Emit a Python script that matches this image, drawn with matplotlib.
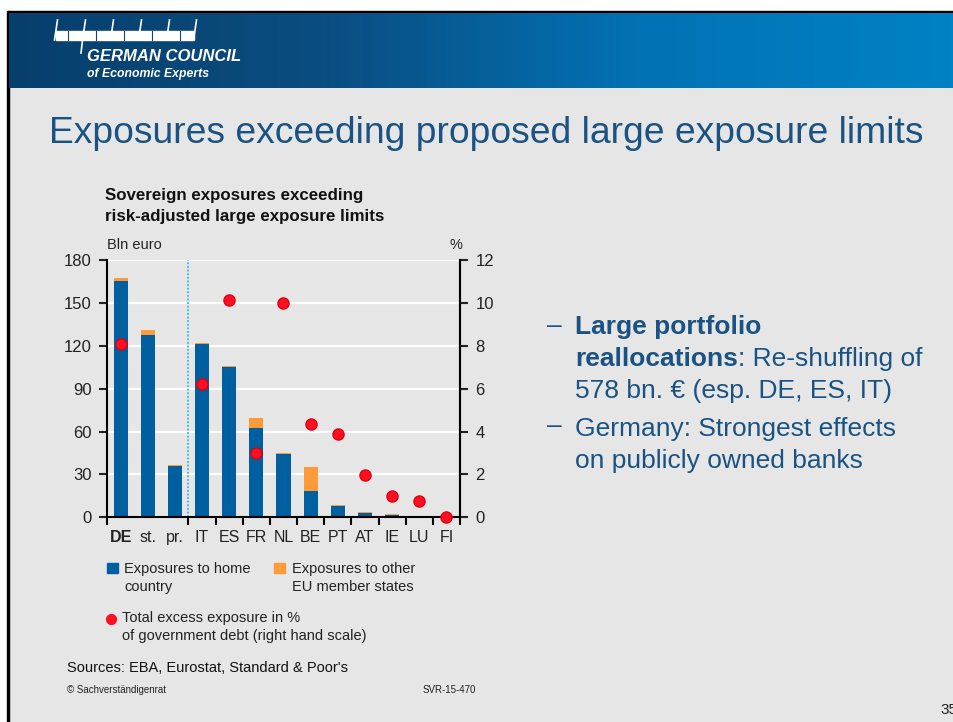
import numpy as np
import matplotlib
matplotlib.use("Agg")
import matplotlib.pyplot as plt
from matplotlib.patches import Rectangle
from matplotlib.lines import Line2D
from matplotlib.colors import LinearSegmentedColormap

plt.rcParams['font.family'] = ['Liberation Sans', 'DejaVu Sans']

# ---- data ----
categories = ["DE", "st.", "pr.", "IT", "ES", "FR", "NL", "BE", "PT", "AT", "IE", "LU", "FI"]
home_country = [165.0, 127.5, 36.0, 121.0, 105.0, 62.5, 44.3, 18.4, 8.0, 3.0, 1.6, 0.3, 0.0]
other_eu = [2.5, 3.5, 0.7, 0.8, 0.8, 7.0, 0.7, 16.8, 0.6, 1.0, 1.0, 0.0, 0.0]
excess_pct = [8.08, np.nan, np.nan, 6.2, 10.12, 2.98, 9.98, 4.37, 3.89, 1.96, 0.99, 0.78, 0.0]
left_ticks = [0, 30, 60, 90, 120, 150, 180]
right_ticks = [0, 2, 4, 6, 8, 10, 12]

W, H = 954, 722
fig = plt.figure(figsize=(W / 100, H / 100), dpi=100)
fig.patch.set_facecolor("#e6e6e6")

def fx(x):
    return x / W

def fy(y):
    return 1 - y / H

# ---- slide frame and header ----
bg = fig.add_axes([0, 0, 1, 1], zorder=-10)
bg.set_xlim(0, W)
bg.set_ylim(H, 0)
bg.axis("off")
bg.add_patch(Rectangle((0, 0), W, 11, color="white"))
bg.add_patch(Rectangle((0, 0), 8, H, color="white"))
bg.add_patch(Rectangle((8, 11), W - 8, 2.5, color="black"))
bg.add_patch(Rectangle((7, 11), 2, H - 11, color="black"))
grad = np.linspace(0, 1, 256)[None, :]
hdr = LinearSegmentedColormap.from_list("hdr", ["#073f6c", "#0a4d80", "#0272b4", "#0082c4"])
bg.imshow(grad, extent=(9, W, 88, 13.5), cmap=hdr, aspect="auto", zorder=1)

# logo strokes
bg.add_patch(Rectangle((56, 31), 138, 9, color="white", zorder=2))
for xs in [56, 84, 112, 140, 168, 195]:
    bg.add_line(Line2D([xs - 1.5, xs + 1.5], [40, 20], color="white", lw=1.2, zorder=3))
for xs in [68, 96, 124, 152, 180]:
    bg.add_line(Line2D([xs, xs], [31, 40], color="#0a4a7c", lw=0.8, zorder=3))
bg.add_line(Line2D([81, 83], [53, 36], color="white", lw=1.2, zorder=3))
fig.text(fx(87), fy(61), "GERMAN COUNCIL", color="white", fontsize=12,
         fontweight="bold", fontstyle="italic", va="baseline")
fig.text(fx(87), fy(77), "of Economic Experts", color="white", fontsize=8.8,
         fontweight="bold", fontstyle="italic", va="baseline")

# ---- slide title ----
fig.text(fx(49), fy(143), "Exposures exceeding proposed large exposure limits",
         color="#1a5383", fontsize=26.8, va="baseline")

# ---- chart ----
ax_left, ax_right, ax_top, ax_bot = 107, 460, 260, 517.3
ax = fig.add_axes([fx(ax_left), fy(ax_bot), fx(ax_right - ax_left), (ax_bot - ax_top) / H])
ax.set_facecolor("#e6e6e6")
x = np.arange(len(categories))
bw = 0.52
ax.bar(x, home_country, bw, color="#005f9f", zorder=3)
ax.bar(x, other_eu, bw, bottom=home_country, color="#fd9a3a", zorder=3)
ax.set_xlim(-0.5, len(categories) - 0.5)
ax.set_ylim(0, 180)
ax.set_yticks(left_ticks)
for v in left_ticks[1:]:
    ax.axhline(v, color="white", lw=1.6, zorder=1)
ax.axvline(2.5, color="#33b5ea", lw=1.3, ls=(0, (1, 1)), zorder=4)

ax.spines["top"].set_visible(False)
for s in ["left", "right", "bottom"]:
    ax.spines[s].set_linewidth(1.5)
    ax.spines[s].set_zorder(5)
ax.set_xticks(x)
ax.set_xticklabels(categories)
ax.set_xticks([-0.5] + list(np.arange(2.5, 12.6, 1.0)), minor=True)
ax.tick_params(axis="x", which="major", length=0, pad=9, labelsize=11.5, colors="#222222")
ax.tick_params(axis="x", which="minor", length=6, width=1.5, direction="out")
ax.tick_params(axis="y", length=6, width=1.5, labelsize=12, pad=5, colors="#222222")
ax.get_xticklabels()[0].set_fontweight("bold")

ax2 = ax.twinx()
ax2.set_ylim(0, 12)
ax2.set_yticks(right_ticks)
ax2.tick_params(axis="y", length=6, width=1.5, labelsize=12, pad=5, colors="#222222")
for s in ["top", "left", "bottom"]:
    ax2.spines[s].set_visible(False)
ax2.spines["right"].set_linewidth(1.5)
ax2.scatter(x, excess_pct, s=64, color="#ff1020", edgecolor="#e00010", linewidth=1, zorder=6,
            clip_on=False)

# chart title and units
fig.text(fx(105), fy(200), "Sovereign exposures exceeding", fontsize=12.2,
         fontweight="bold", color="#111111", va="baseline")
fig.text(fx(105), fy(221), "risk-adjusted large exposure limits", fontsize=12.2,
         fontweight="bold", color="#111111", va="baseline")
fig.text(fx(107), fy(249), "Bln euro", fontsize=10.5, color="#222222", va="baseline")
fig.text(fx(450), fy(249), "%", fontsize=10.5, color="#222222", va="baseline")

# legend
bg.add_patch(Rectangle((107, 563), 11, 10, color="#005f9f"))
fig.text(fx(124), fy(573), "Exposures to home", fontsize=10.5, color="#222222", va="baseline")
fig.text(fx(124), fy(591), "country", fontsize=10.5, color="#222222", va="baseline")
bg.add_patch(Rectangle((274, 563), 11, 10, color="#fd9a3a"))
fig.text(fx(292), fy(573), "Exposures to other", fontsize=10.5, color="#222222", va="baseline")
fig.text(fx(292), fy(591), "EU member states", fontsize=10.5, color="#222222", va="baseline")
bg.scatter([111.5], [618.5], s=50, color="#ff1020", zorder=3)
fig.text(fx(122), fy(622), "Total excess exposure in %", fontsize=10.5, color="#222222", va="baseline")
fig.text(fx(122), fy(640), "of government debt (right hand scale)", fontsize=10.5, color="#222222",
         va="baseline")

fig.text(fx(67), fy(672), "Sources: EBA, Eurostat, Standard & Poor's", fontsize=10.5,
         color="#111111", va="baseline")
fig.text(fx(67), fy(693), "© Sachverständigenrat", fontsize=7, color="#222222", va="baseline")
fig.text(fx(423), fy(693), "SVR-15-470", fontsize=7, color="#222222", va="baseline")
fig.text(fx(940), fy(714), "35", fontsize=11, color="#222222", va="baseline")

# bullet points
blue_txt = "#1a5383"
fs = 19
for yb in [333, 433]:
    fig.text(fx(547), fy(yb), "–", fontsize=fs, color=blue_txt, va="baseline")
fig.text(fx(575), fy(334), "Large portfolio", fontsize=fs, fontweight="bold",
         color=blue_txt, va="baseline")
t1 = fig.text(fx(575), fy(366), "reallocations", fontsize=fs, fontweight="bold",
              color=blue_txt, va="baseline")
fig.canvas.draw()
bb = t1.get_window_extent()
fig.text(bb.x1 / W, fy(366), ": Re-shuffling of", fontsize=fs, color=blue_txt, va="baseline")
fig.text(fx(575), fy(398), "578 bn. € (esp. DE, ES, IT)", fontsize=fs, color=blue_txt, va="baseline")
fig.text(fx(575), fy(436), "Germany: Strongest effects", fontsize=fs, color=blue_txt, va="baseline")
fig.text(fx(575), fy(468), "on publicly owned banks", fontsize=fs, color=blue_txt, va="baseline")

fig.savefig("out.png", dpi=100, facecolor=fig.get_facecolor())
